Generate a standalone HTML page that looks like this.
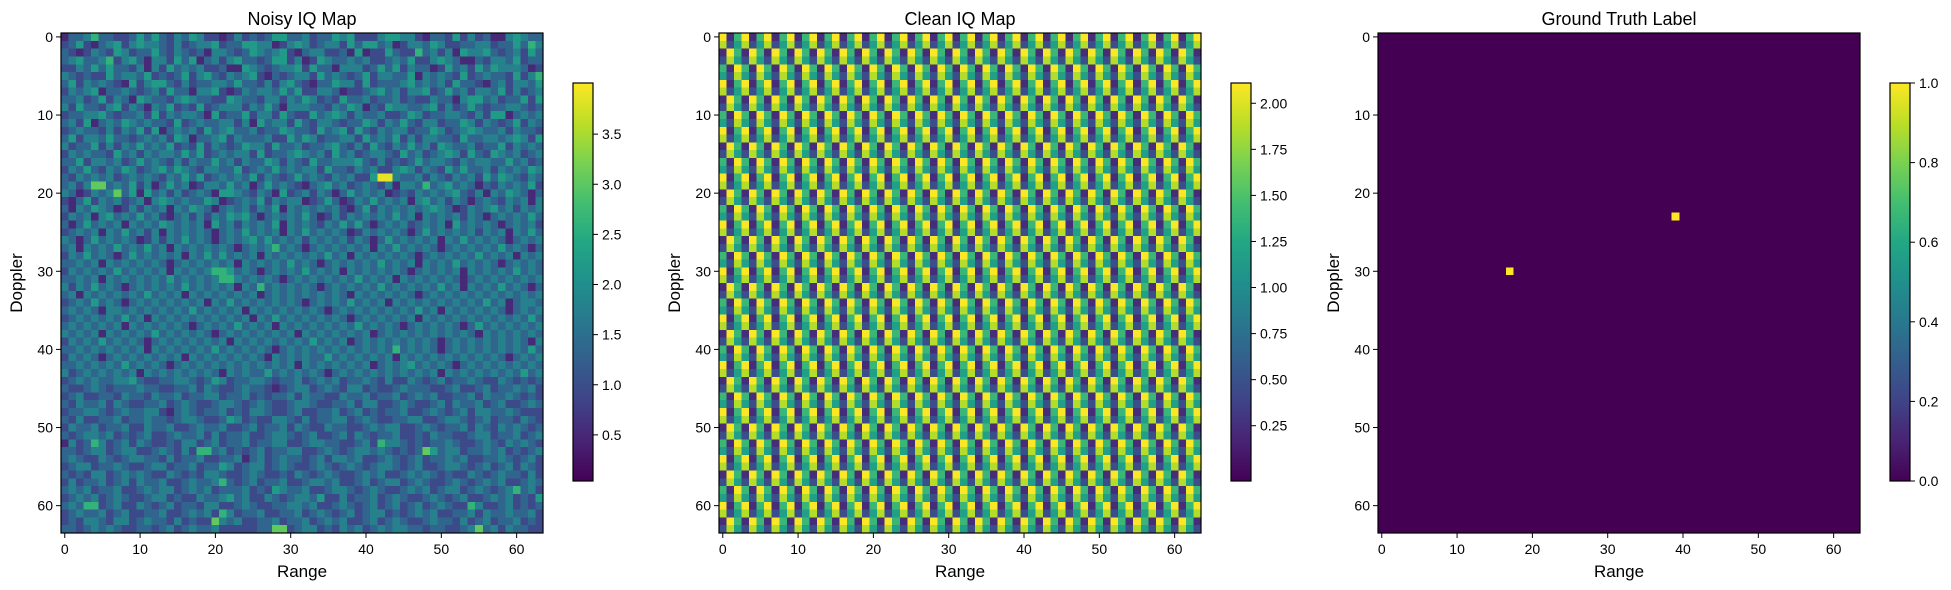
<!DOCTYPE html>
<html><head><meta charset="utf-8">
<style>
html,body{margin:0;padding:0;background:#fff;}
svg{display:block;font-family:"Liberation Sans","DejaVu Sans",sans-serif;}
</style></head>
<body>
<svg id="fig" width="1951" height="590" viewBox="0 0 1951 590" xmlns="http://www.w3.org/2000/svg"></svg>
<script>
// ---------- data ----------
const noisyRows = [
"1334633223535324354221242323553342335452224554421332524231145433",
"2352134524544324234452335544124542344253553412443542233442335364",
"3212432542335324323144323543452134422315122532263424154453234253",
"3453346245314425351342453323552412543343422343522454311324435233",
"2243535332414253434223115432344525331444235352433125342535444312",
"4323225344352323524532434521323442534323524433514343252343325246",
"3524343215245532423344353324245321335442523334534342533213424435",
"2434513343234253314452124344353522443122345342445235342443524234",
"3342352431543324543322543324424354232533423342322433145534233525",
"4253324524314352325234442435314443324354132544334524235323344323",
"2334453233425243443152335244253225345424334223542334432425513434",
"3425134354343325234334424153442532443233542435324423354243235243",
"2343324243525134342534533423354332534525324344233542345433424332",
"3524435332343425413345243334225354233442534352424433253344345425",
"4233524243534352325243235442533423345324253243534254334233524343",
"2434332534243443535234344252334543425342344325342345425325434234",
"3352443423534324243353424335424325334445324232353443243443353423",
"2435324354234535432443352343534344253324342245424325353342434354",
"3243434234343243535234343524323534324342259943342432434253543243",
"3424773435241353412443534135343213453423432414436345343132434352",
"4312434735153424234315543243152342431353434123243434532414354313",
"2135243423414543433541234352434412353124353434145342431343243414",
"3143543124243414354313434243514343434213524343434543124345342434",
"2434145343534213424243545313434353124243434353414343424313434353",
"3135343414343543434153424343514343243535313434234341534343134342",
"2343414353424143434313435343414353434312434343135343434243414353",
"4313534343124243534313434535343424343424313534343414353434313434",
"3414343534353414343434313434634313434343414353434313434343534313",
"2435343135343434143535343414343434353414343434313434343534341434",
"3343414343434313434343414343435343134343435343414343534343134343",
"2434343534343414343466534313434353434143434343134343414343435343",
"3343414343434353434346643434313434343435343414343434313434343434",
"4243534313434343534343414363434343134343435343434353414343534313",
"3414343434353434143434343413434343434314343434313434343434343434",
"2343534313434343434143534343434313434353434143434343434353413443",
"3434314434343434353434341434343434313434343434353414343434313434",
"2343434353414343434343434143534343434313434343414343434343434353",
"3434343414343434313434353434143434343435343431343434313534343434",
"4343414343435343434313434343434143434343413434343434343143434343",
"2434353434313434343434143434343435343413434343434313434343434314",
"3343434343414343434353434343134343434343434363434313434343434353",
"2434313434343434143434343431434343353434343414343434343434313434",
"3343434353434313434343434343434143434343413434534343134343434343",
"4234343434143434343431434335343434313434343434343414343434343534",
"2343433445322334432354233443233423434233432422432342334322432323",
"3223432333433223342432234332123442343244232234333223422342334342",
"2342233243324334233442334232334243322433423342343422334243343232",
"3243342432233423432234432343223443223342442234322342433423422343",
"2334432343344213432334232443223422334234232334223432342443343222",
"3242233423343323443223542322443242334423432233442234432342332432",
"2433423342243342234334223423342432243322343442234323342432434323",
"3234434232342234334242334223443234223424323342232433223442334234",
"1423642342432232442342334233442234433223426443232334322343243432",
"3323442344223432426634232342334422343234434323237534423343423234",
"3432243234433242334223341342343323424434223432342334342233432342",
"2344233432234423342335423442343223432343234432342234432342342432",
"3232442343432243232443223432232432343223434223434323224323433242",
"2423342342433422343346323423342234434223423442343223432343422343",
"3434233422343442343423334232543342234432343223434234423432346342",
"2343423432234423224334534224323443522423342343223432342234342325",
"3436623422432342332442234322334434223432342342342343226422342323",
"2343342342233422343426423342233423432342344232343422334243343342",
"2324432442343324232274342233423342343422342343223433242342334232",
"3323434322332342343342222233772344232434234344332332234734243322"
];
// clean map: 6-row x 3-col repeating tile (digits 0..9)
const cleanTile = ["916","825","196","285","619","528"];
// ground truth target cells [range, doppler]
const targetRange = [17, 39];
const targetDoppler = [30, 23];
const xTicks = [0,10,20,30,40,50,60];
const yTicks = [0,10,20,30,40,50,60];
const cb1Ticks = [0.5,1.0,1.5,2.0,2.5,3.0,3.5];
const cb1Labels = ["0.5","1.0","1.5","2.0","2.5","3.0","3.5"];
const cb2Ticks = [0.25,0.5,0.75,1.0,1.25,1.5,1.75,2.0];
const cb2Labels = ["0.25","0.50","0.75","1.00","1.25","1.50","1.75","2.00"];
const cb3Ticks = [0,0.2,0.4,0.6,0.8,1.0];
const cb3Labels = ["0.0","0.2","0.4","0.6","0.8","1.0"];

// ---------- helpers ----------
const NS="http://www.w3.org/2000/svg";
const svg=document.getElementById('fig');
function mk(tag,attrs,parent){const e=document.createElementNS(NS,tag);for(const k in attrs)e.setAttribute(k,attrs[k]);(parent||svg).appendChild(e);return e;}
const VIR=[[68,1,84],[72,35,116],[64,67,135],[52,94,141],[41,120,142],[32,144,140],[34,167,132],[68,190,112],[121,209,81],[189,222,38],[253,231,37]];
function viridis(t){t=Math.max(0,Math.min(1,t));const p=t*(VIR.length-1);const i=Math.min(VIR.length-2,Math.floor(p));const f=p-i;const a=VIR[i],b=VIR[i+1];return `rgb(${Math.round(a[0]+(b[0]-a[0])*f)},${Math.round(a[1]+(b[1]-a[1])*f)},${Math.round(a[2]+(b[2]-a[2])*f)})`;}

const PW=482, PH=500, TOP=33, N=64;
const panels=[
 {left:61, title:"Noisy IQ Map", vmin:0.04, vmax:4.01, ticks:cb1Ticks, labels:cb1Labels, name:"noisy"},
 {left:719, title:"Clean IQ Map", vmin:-0.05, vmax:2.11, ticks:cb2Ticks, labels:cb2Labels, name:"clean"},
 {left:1378, title:"Ground Truth Label", vmin:0, vmax:1, ticks:cb3Ticks, labels:cb3Labels, name:"label"}
];
function getVal(p,r,c){
  if(p===0) return 0.1+(+noisyRows[r][c])*0.42;
  if(p===1) return (+cleanTile[r%cleanTile.length][c%3])/9*2.1;
  for(let k=0;k<targetRange.length;k++) if(targetRange[k]===c&&targetDoppler[k]===r) return 1;
  return 0;
}

panels.forEach((P,pi)=>{
  const g=mk('g',{});
  
  
  const cw=PW/N, ch=PH/N;
  const xs=c=>P.left+c*cw, ys=r=>TOP+r*ch;
  const hm=mk('g',{'shape-rendering':'crispEdges'},g);
  
  
  for(let r=0;r<N;r++)for(let c=0;c<N;c++){
    const v=getVal(pi,r,c);
    const x0=xs(c), y0=ys(r);
    mk('rect',{x:x0.toFixed(2),y:y0.toFixed(2),width:(xs(c+1)-x0+0.4).toFixed(2),height:(ys(r+1)-y0+0.4).toFixed(2),fill:viridis((v-P.vmin)/(P.vmax-P.vmin))},hm);
  }
  const fr=mk('rect',{x:P.left,y:TOP,width:PW,height:PH,fill:'none',stroke:'#000','stroke-width':1.2},g);
  
  
  xTicks.forEach(t=>{
    const x=xs(t+0.5);
    mk('line',{x1:x,y1:TOP+PH,x2:x,y2:TOP+PH+5,stroke:'#000','stroke-width':1},g);
    const tx=mk('text',{x:x,y:TOP+PH+21,'font-size':14,'text-anchor':'middle',fill:'#000'},g);
    tx.textContent=t;
    
    
  });
  yTicks.forEach(t=>{
    const y=ys(t+0.5);
    mk('line',{x1:P.left-5,y1:y,x2:P.left,y2:y,stroke:'#000','stroke-width':1},g);
    const tx=mk('text',{x:P.left-8,y:y+5,'font-size':14,'text-anchor':'end',fill:'#000'},g);
    tx.textContent=t;
    
    
  });
  const ti=mk('text',{x:P.left+PW/2,y:25,'font-size':18,'text-anchor':'middle',fill:'#000'},g);
  ti.textContent=P.title;
  
  
  const xl=mk('text',{x:P.left+PW/2,y:577,'font-size':17,'text-anchor':'middle',fill:'#000'},g);
  xl.textContent="Range";
  
  
  const yl=mk('text',{x:0,y:0,'font-size':17,'text-anchor':'middle',fill:'#000',transform:`translate(${P.left-39},${TOP+PH/2}) rotate(-90)`},g);
  yl.textContent="Doppler";
  
  
  const cbx=P.left+512, cbT=83, cbB=481, cbW=20;
  const cb=mk('g',{'shape-rendering':'crispEdges'},g);
  
  
  for(let y=cbT;y<cbB;y++){
    mk('rect',{x:cbx,y:y,width:cbW,height:1.2,fill:viridis(1-(y-cbT+0.5)/(cbB-cbT))},cb);
  }
  mk('rect',{x:cbx,y:cbT,width:cbW,height:cbB-cbT,fill:'none',stroke:'#000','stroke-width':1.2},g);
  const cy=v=>cbB-(v-P.vmin)/(P.vmax-P.vmin)*(cbB-cbT);
  P.ticks.forEach((t,i)=>{
    const y=cy(t);
    mk('line',{x1:cbx+cbW,y1:y,x2:cbx+cbW+5,y2:y,stroke:'#000','stroke-width':1},g);
    const tx=mk('text',{x:cbx+cbW+9,y:y+5,'font-size':14,fill:'#000'},g);
    tx.textContent=P.labels[i];
    
    
  });
});
</script>
</body></html>
